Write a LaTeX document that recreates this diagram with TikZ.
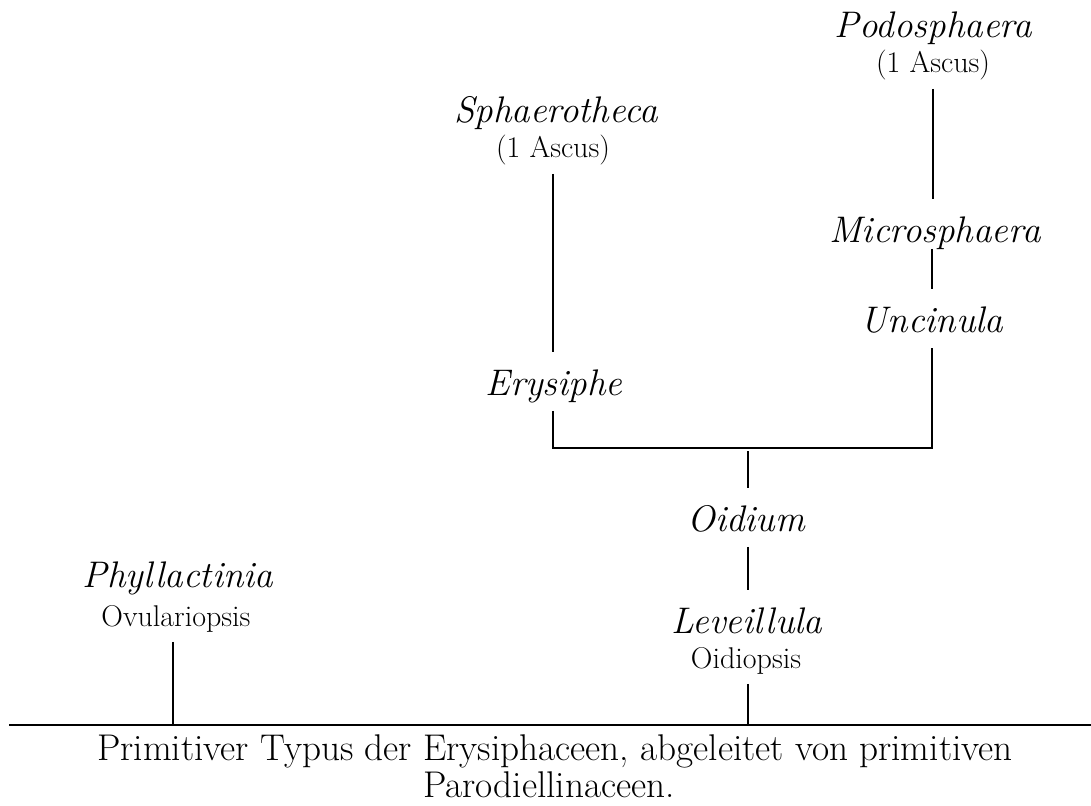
\documentclass[tikz,border=0pt]{standalone}
\usepackage{tikz}

\begin{document}
\begin{tikzpicture}[x=5pt,y=5pt,line width=0.9pt,
  taxon/.style={anchor=base,inner sep=0pt,font=\fontsize{18.5}{20}\selectfont\itshape,text height=21pt,text depth=7.5pt},
  form/.style={anchor=base,inner sep=0pt,font=\fontsize{15}{16}\selectfont,text height=10pt,text depth=7.5pt},
  caption/.style={anchor=base,inner sep=0pt,font=\fontsize{18.6}{18}\selectfont}]
\useasboundingbox (0,0) rectangle (109.1,80.5);
% right branch
\node[taxon] (podo) at (93.3,76.7) {Podosphaera};
\node[form] (podoA) at (93.3,73.2) {(1 Ascus)};
\node[taxon] (micro) at (93.5,56.3) {Microsphaera};
\node[taxon] (unci) at (93.2,47.3) {Uncinula};
\draw (podoA.south) -- (podoA.south |- micro.north);
\draw[shorten <=-4.5pt] (micro.south -| unci.north) -- (unci.north);
% middle branch
\node[taxon] (sphae) at (55.6,68.2) {Sphaerotheca};
\node[form] (sphaeA) at (55.3,64.7) {(1 Ascus)};
\node[taxon] (erys) at (55.4,41.0) {Erysiphe};
\draw (sphaeA.south) -- (sphaeA.south |- erys.north);
% fork and stem
\coordinate (fork) at (74.8,35.7);
\draw (erys.south -| sphaeA.south) |- (fork) -| (unci.south);
\node[taxon] (oid) at (74.6,27.4) {Oidium};
\node[taxon] (leve) at (74.7,17.2) {Leveillula};
\node[form] (leveO) at (74.6,13.7) {Oidiopsis};
\draw[shorten <=1.5pt] (fork) -- (fork |- oid.north);
\draw (oid.south -| fork) -- (fork |- leve.north);
% left branch
\node[taxon] (phyl) at (17.8,21.8) {Phyllactinia};
\node[form] (phylO) at (17.6,17.9) {Ovulariopsis};
% base line
\coordinate (baseL) at (0.9,8.0);
\coordinate (baseR) at (109.1,8.0);
\draw (baseL) -- (baseR);
\draw (phylO.south -| 17.3,0) -- (17.3,0 |- baseL);
\draw (leveO.south -| fork) -- (fork |- baseL);
\node[caption] (cap1) at (55.5,4.5) {Primitiver Typus der Erysiphaceen, abgeleitet von primitiven};
\node[caption] (cap2) at (54.9,0.8) {Parodiellinaceen.};
\end{tikzpicture}
\end{document}
